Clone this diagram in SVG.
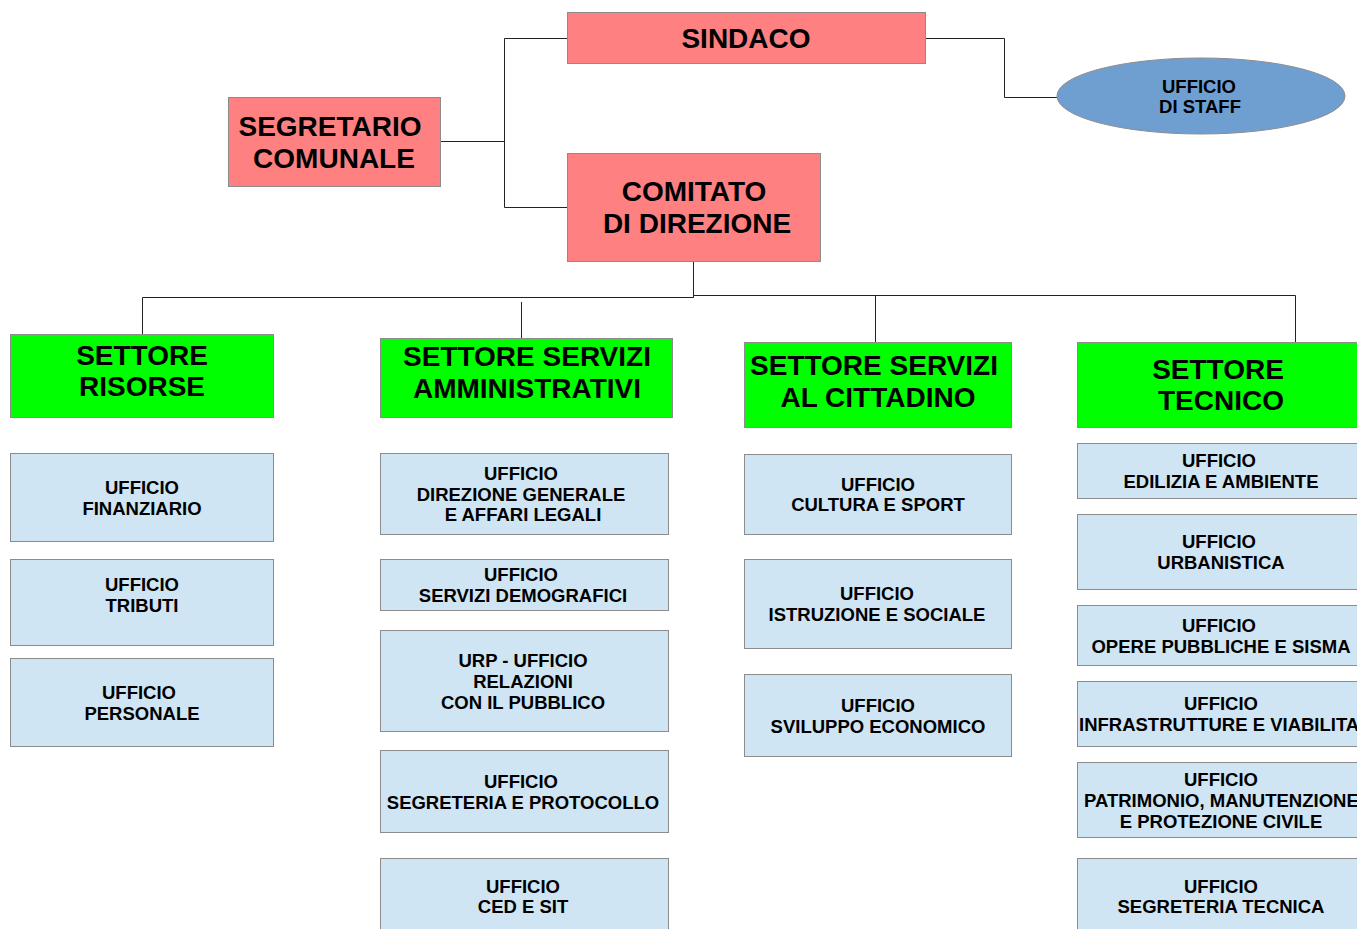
<svg xmlns="http://www.w3.org/2000/svg" width="1357" height="929" viewBox="0 0 1357 929">
<style>
text{font-family:"Liberation Sans",Arial,sans-serif;font-weight:bold;fill:#000;text-anchor:middle}
.big{font-size:28px}
.sm{font-size:18.5px}
.red{fill:#ff8080;stroke:#8c8c8c;stroke-width:1}
.grn{fill:#00ff00;stroke:#8c8c8c;stroke-width:1}
.lb{fill:#cfe5f3;stroke:#8c8c8c;stroke-width:1}
.con{fill:none;stroke:#222;stroke-width:1}
</style>
<rect width="1357" height="929" fill="#fff"/>
<g id="connectors">
<polyline class="con" points="567,38.5 504.5,38.5 504.5,207.5 567,207.5"/>
<polyline class="con" points="440,141.5 504.5,141.5"/>
<polyline class="con" points="926,38.5 1004.5,38.5 1004.5,97.5 1057,97.5"/>
<polyline class="con" points="693.5,261 693.5,297.5 142.5,297.5 142.5,334"/>
<polyline class="con" points="693.5,297.5 693.5,295.5 1295.5,295.5 1295.5,342"/>
<line class="con" x1="875.5" y1="295.5" x2="875.5" y2="342"/>
<line class="con" x1="521.5" y1="302" x2="521.5" y2="338"/>
</g>
<g id="sindaco"><rect class="red" x="567.5" y="12.5" width="358" height="51"/><text class="big" x="746" y="48">SINDACO</text></g>
<g id="segretario"><rect class="red" x="228.5" y="97.5" width="212" height="89"/><text class="big" x="330" y="136">SEGRETARIO</text><text class="big" x="334" y="168">COMUNALE</text></g>
<g id="comitato"><rect class="red" x="567.5" y="153.5" width="253" height="108"/><text class="big" x="694" y="201">COMITATO</text><text class="big" x="697" y="233">DI DIREZIONE</text></g>
<g id="staff"><ellipse cx="1201" cy="96" rx="144" ry="38" fill="#6f9fd0" stroke="#8c8c8c"/><text class="sm" x="1199" y="92.5">UFFICIO</text><text class="sm" x="1200" y="112.5">DI STAFF</text></g>
<g id="settore-risorse"><rect class="grn" x="10.5" y="334.5" width="263" height="83"/><text class="big" x="142" y="365">SETTORE</text><text class="big" x="142" y="396">RISORSE</text></g>
<g id="settore-amm"><rect class="grn" x="380.5" y="338.5" width="292" height="79"/><text class="big" x="527" y="366">SETTORE SERVIZI</text><text class="big" x="527" y="398">AMMINISTRATIVI</text></g>
<g id="settore-citt"><rect class="grn" x="744.5" y="342.5" width="267" height="85"/><text class="big" x="874" y="375">SETTORE SERVIZI</text><text class="big" x="878" y="407">AL CITTADINO</text></g>
<g id="settore-tecnico"><rect class="grn" x="1077.5" y="342.5" width="285" height="85"/><text class="big" x="1218" y="379">SETTORE</text><text class="big" x="1221" y="410">TECNICO</text></g>
<g id="u-finanziario"><rect class="lb" x="10.5" y="453.5" width="263" height="88"/><text class="sm" x="142" y="493.5">UFFICIO</text><text class="sm" x="142" y="514.5">FINANZIARIO</text></g>
<g id="u-tributi"><rect class="lb" x="10.5" y="559.5" width="263" height="86"/><text class="sm" x="142" y="590.5">UFFICIO</text><text class="sm" x="142" y="611.5">TRIBUTI</text></g>
<g id="u-personale"><rect class="lb" x="10.5" y="658.5" width="263" height="88"/><text class="sm" x="139" y="698.5">UFFICIO</text><text class="sm" x="142" y="719.5">PERSONALE</text></g>
<g id="u-direzione"><rect class="lb" x="380.5" y="453.5" width="288" height="81"/><text class="sm" x="521" y="479.5">UFFICIO</text><text class="sm" x="521" y="500.5">DIREZIONE GENERALE</text><text class="sm" x="523" y="520.5">E AFFARI LEGALI</text></g>
<g id="u-demografici"><rect class="lb" x="380.5" y="559.5" width="288" height="51"/><text class="sm" x="521" y="580.5">UFFICIO</text><text class="sm" x="523" y="601.5">SERVIZI DEMOGRAFICI</text></g>
<g id="u-urp"><rect class="lb" x="380.5" y="630.5" width="288" height="101"/><text class="sm" x="523" y="666.5">URP - UFFICIO</text><text class="sm" x="523" y="687.5">RELAZIONI</text><text class="sm" x="523" y="708.5">CON IL PUBBLICO</text></g>
<g id="u-segreteria"><rect class="lb" x="380.5" y="750.5" width="288" height="82"/><text class="sm" x="521" y="787.5">UFFICIO</text><text class="sm" x="523" y="808.5">SEGRETERIA E PROTOCOLLO</text></g>
<g id="u-ced"><rect class="lb" x="380.5" y="858.5" width="288" height="80"/><text class="sm" x="523" y="892.5">UFFICIO</text><text class="sm" x="523" y="912.5">CED E SIT</text></g>
<g id="u-cultura"><rect class="lb" x="744.5" y="454.5" width="267" height="80"/><text class="sm" x="878" y="490.5">UFFICIO</text><text class="sm" x="878" y="510.5">CULTURA E SPORT</text></g>
<g id="u-istruzione"><rect class="lb" x="744.5" y="559.5" width="267" height="89"/><text class="sm" x="877" y="599.5">UFFICIO</text><text class="sm" x="877" y="620.5">ISTRUZIONE E SOCIALE</text></g>
<g id="u-sviluppo"><rect class="lb" x="744.5" y="674.5" width="267" height="82"/><text class="sm" x="878" y="711.5">UFFICIO</text><text class="sm" x="878" y="732.5">SVILUPPO ECONOMICO</text></g>
<g id="u-edilizia"><rect class="lb" x="1077.5" y="443.5" width="285" height="55"/><text class="sm" x="1219" y="466.5">UFFICIO</text><text class="sm" x="1221" y="487.5">EDILIZIA E AMBIENTE</text></g>
<g id="u-urbanistica"><rect class="lb" x="1077.5" y="514.5" width="285" height="75"/><text class="sm" x="1219" y="547.5">UFFICIO</text><text class="sm" x="1221" y="568.5">URBANISTICA</text></g>
<g id="u-opere"><rect class="lb" x="1077.5" y="605.5" width="285" height="60"/><text class="sm" x="1219" y="631.5">UFFICIO</text><text class="sm" x="1221" y="652.5">OPERE PUBBLICHE E SISMA</text></g>
<g id="u-infrastrutture"><rect class="lb" x="1077.5" y="681.5" width="285" height="65"/><text class="sm" x="1221" y="709.5">UFFICIO</text><text class="sm" x="1079" y="730.5" style="text-anchor:start">INFRASTRUTTURE E VIABILITA</text></g>
<g id="u-patrimonio"><rect class="lb" x="1077.5" y="762.5" width="285" height="75"/><text class="sm" x="1221" y="785.5">UFFICIO</text><text class="sm" x="1084" y="806.5" style="text-anchor:start">PATRIMONIO, MANUTENZIONE</text><text class="sm" x="1221" y="827.5">E PROTEZIONE CIVILE</text></g>
<g id="u-segr-tecnica"><rect class="lb" x="1077.5" y="858.5" width="285" height="80"/><text class="sm" x="1221" y="892.5">UFFICIO</text><text class="sm" x="1221" y="912.5">SEGRETERIA TECNICA</text></g>
</svg>
